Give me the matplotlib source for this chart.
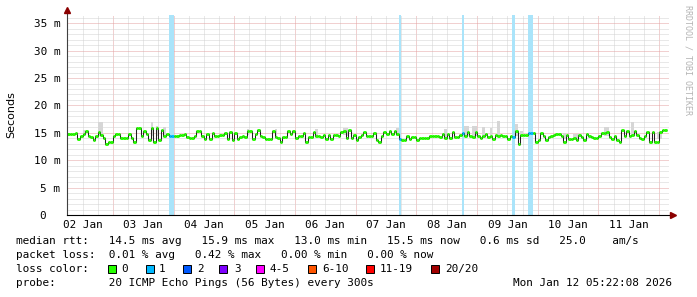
import numpy as np
import matplotlib
matplotlib.use('Agg')
import matplotlib.pyplot as plt
from matplotlib.patches import Rectangle

# hourly median rtt (ms), first bin starts Jan 2 06:00
median_ms = [
    14.7, 14.7, 14.7, 15.0, 13.8, 14.4, 14.8, 15.3, 14.4, 14.2,
    13.6, 14.5, 15.1, 14.6, 14.0, 13.0, 13.4, 13.4, 14.4, 14.7,
    14.7, 14.1, 14.0, 14.0, 14.8, 14.0, 13.4, 15.9, 15.9, 14.4,
    15.3, 14.8, 13.6, 15.9, 13.3, 15.9, 13.6, 15.5, 14.4, 14.7,
    14.5, 14.5, 14.5, 14.5, 14.6, 14.6, 14.7, 14.3, 14.0, 14.0,
    14.4, 15.3, 15.3, 14.4, 13.8, 14.7, 13.8, 15.0, 14.4, 14.4,
    14.6, 14.6, 15.0, 13.9, 15.2, 13.6, 15.0, 13.9, 14.3, 14.4,
    14.2, 15.4, 15.4, 13.8, 14.8, 15.6, 14.4, 14.2, 13.9, 13.9,
    13.9, 15.4, 14.2, 14.0, 13.4, 14.2, 14.2, 15.4, 14.8, 15.4,
    14.0, 14.4, 14.4, 15.0, 13.3, 14.2, 14.2, 15.1, 14.5, 14.4,
    14.2, 14.6, 13.9, 14.6, 13.9, 14.6, 14.6, 14.4, 15.1, 15.4,
    14.0, 15.6, 14.0, 14.6, 13.6, 14.2, 14.6, 15.1, 14.4, 14.4,
    14.4, 15.0, 13.6, 13.3, 14.4, 15.1, 14.8, 15.4, 14.8, 15.4,
    14.8, 13.8, 13.6, 13.6, 14.5, 13.9, 14.3, 14.3, 13.6, 14.0,
    14.0, 14.0, 14.1, 14.4, 14.4, 14.4, 14.4, 14.2, 14.8, 14.0,
    14.8, 14.0, 15.2, 14.2, 14.2, 14.6, 15.0, 14.4, 15.1, 14.5,
    14.2, 15.2, 14.4, 14.0, 14.4, 14.8, 14.2, 14.5, 13.9, 14.6,
    14.5, 14.6, 14.4, 14.4, 13.9, 14.4, 14.2, 15.4, 13.0, 14.6,
    14.6, 14.6, 15.0, 15.0, 14.9, 13.4, 13.6, 15.0, 14.5, 13.6,
    14.2, 14.5, 14.6, 14.8, 14.8, 14.5, 13.4, 14.6, 13.9, 13.9,
    14.0, 13.6, 14.6, 14.2, 13.6, 14.8, 14.4, 14.2, 14.0, 14.0,
    14.4, 15.0, 15.0, 15.1, 14.2, 13.9, 14.5, 13.6, 13.4, 15.6,
    14.4, 15.4, 14.4, 14.6, 15.4, 14.6, 14.0, 13.9, 14.4, 15.1,
    13.4, 15.2, 13.3, 13.4, 15.2, 15.6, 15.6,
]
loss_hours = [40, 41, 131, 156, 176, 182, 183]  # bins with 1/20 lost

# smoke (spread of the pings) where it shows above the median line
smoke_hours = [6, 12, 13, 33, 35, 38, 71, 82, 98, 109, 110, 130, 149, 157, 158,
               160, 161, 164, 167, 170, 177, 179, 196, 200, 201, 212, 213, 223, 233, 234]
smoke_lo = [14.8, 14.4, 14.4, 14.5, 14.5, 14.4, 14.6, 14.3, 14.5, 14.6, 14.4, 14.5, 14.3, 14.4, 14.4,
            14.4, 14.5, 14.4, 14.5, 14.5, 14.4, 14.2, 13.8, 13.8, 13.8, 14.5, 14.5, 14.5, 13.8, 13.8]
smoke_hi = [15.6, 17.0, 16.9, 16.9, 16.2, 16.0, 15.7, 15.7, 15.7, 15.9, 15.9, 15.9, 15.7, 16.3, 16.3,
            16.2, 16.2, 16.0, 15.8, 17.2, 16.7, 15.4, 15.0, 14.7, 14.7, 16.0, 16.0, 17.0, 15.2, 15.2]

day_labels = ['02 Jan', '03 Jan', '04 Jan', '05 Jan', '06 Jan',
              '07 Jan', '08 Jan', '09 Jan', '10 Jan', '11 Jan']
y_labels = ['0  ', '5 m', '10 m', '15 m', '20 m', '25 m', '30 m', '35 m']

loss_labels = ['0', '1', '2', '3', '4-5', '6-10', '11-19', '20/20']
loss_colors = ['#26ff00', '#00b8ff', '#0059ff', '#7e00ff', '#ff00ff', '#ff5500', '#ff0000', '#a10000']
loss_box_x = [108, 146, 183, 219, 256, 308, 366, 431]
loss_text_x = [121, 159, 197, 234, 270, 322, 380, 445]

legend_lines = [
    'median rtt:   14.5 ms avg   15.9 ms max   13.0 ms min   15.5 ms now   0.6 ms sd   25.0    am/s',
    'packet loss:  0.01 % avg   0.42 % max   0.00 % min   0.00 % now',
    'loss color:',
    'probe:        20 ICMP Echo Pings (56 Bytes) every 300s',
]
legend_y = [241, 255, 269, 283]
stamp = 'Mon Jan 12 05:22:08 2026'

start_hour = 6          # hours after Jan 2 00:00
x_lo, x_hi = 5.85, 243.9

W, H = 697, 297
mono = 'DejaVu Sans Mono'
fs = 7.9

fig = plt.figure(figsize=(W / 100, H / 100), dpi=100)
fig.patch.set_facecolor('white')
ax = fig.add_axes([67 / W, 1 - 215 / H, 602 / W, (215 - 14.5) / H])
ax.set_xlim(x_lo, x_hi)
ax.set_ylim(0, 0.0366)

# grid
for h in range(6, 244, 6):
    c = '#e4a2a2' if h % 24 == 0 else '#d2d2d2'
    ax.axvline(h, color=c, lw=0.72, ls=(0, (1, 1)), zorder=0.5)
for v in range(1, 37):
    c = '#e4a2a2' if v % 5 == 0 else '#d2d2d2'
    ax.axhline(v / 1000, color=c, lw=0.72, ls=(0, (1, 1)), zorder=0.5)

# loss background
for h in loss_hours:
    ax.axvspan(start_hour + h, start_hour + h + 1, color='#aae4fa', lw=0, zorder=1)

# smoke
sh = start_hour + np.array(smoke_hours)
lo = np.array(smoke_lo) / 1000
hi = np.array(smoke_hi) / 1000
ax.bar(sh, hi - lo, bottom=lo, width=1, align='edge', color='#d6d6d6', lw=0, zorder=2)

# median
med = np.array(median_ms) / 1000
edges = start_hour + np.arange(len(med) + 1)
ax.stairs(med, edges, baseline=None, color='#202020', lw=0.75, zorder=3)
seg_col = [loss_colors[1] if i in loss_hours else loss_colors[0] for i in range(len(med))]
ax.hlines(med, edges[:-1], edges[1:], colors=seg_col, lw=2.1, zorder=4)

# ticks
ax.set_yticks(np.arange(0, 0.036, 0.005))
ax.set_yticklabels(y_labels, family=mono, fontsize=fs)
ax.set_xticks(12 + 24 * np.arange(len(day_labels)))
ax.set_xticklabels(day_labels, family=mono, fontsize=fs)
ax.tick_params(axis='y', length=0, pad=5)
ax.tick_params(axis='x', length=0, pad=3.8)

for s in ['top', 'right', 'left']:
    ax.spines[s].set_visible(False)
ax.spines['bottom'].set_color('black')
ax.spines['bottom'].set_linewidth(0.8)
ax.spines['bottom'].set_zorder(5)
ax.plot([0, 0], [0, 1.012], transform=ax.transAxes, clip_on=False, color='#404040', lw=0.8, zorder=5)
ax.plot(0, 1.02, marker='^', ms=4.5, color='#8b0000', transform=ax.transAxes, clip_on=False, zorder=6)
ax.plot(1.006, 0, marker='>', ms=4.5, color='#8b0000', transform=ax.transAxes, clip_on=False, zorder=6)

fig.text(11 / W, 1 - 115 / H, 'Seconds', rotation=90, ha='center', va='center',
         family='DejaVu Sans', fontsize=8)
fig.text(688 / W, 1 - 5 / H, 'RRDTOOL / TOBI OETIKER', rotation=270, ha='center', va='top',
         family=mono, fontsize=6, color='#b4b4b4')

# legend block
for txt, y in zip(legend_lines, legend_y):
    fig.text(16 / W, 1 - y / H, txt, family=mono, fontsize=fs, va='center', ha='left')
fig.text(513 / W, 1 - legend_y[3] / H, stamp, family=mono, fontsize=fs, va='center', ha='left')
for lab, col, bx, tx in zip(loss_labels, loss_colors, loss_box_x, loss_text_x):
    fig.add_artist(Rectangle((bx / W, 1 - 273 / H), 8 / W, 8 / H, transform=fig.transFigure,
                             facecolor=col, edgecolor='black', lw=0.7))
    fig.text(tx / W, 1 - legend_y[2] / H, lab, family=mono, fontsize=fs, va='center', ha='left')

fig.savefig('out.png', dpi=100)
